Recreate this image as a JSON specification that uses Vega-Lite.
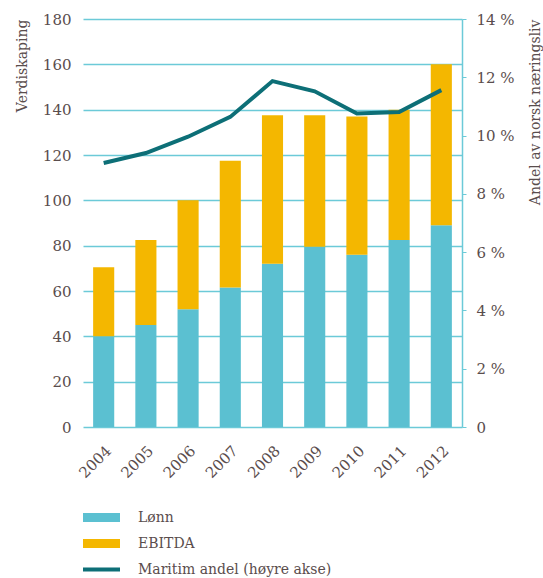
{
  "$schema": "https://vega.github.io/schema/vega-lite/v6.json",
  "width": 379,
  "height": 408,
  "autosize": "none",
  "padding": {"left": 83, "top": 19, "right": 81, "bottom": 151},
  "background": "white",
  "config": {
    "view": {"stroke": null},
    "font": "DejaVu Serif",
    "axis": {"labelColor": "#5a4d4d", "titleColor": "#5a4d4d", "labelFontSize": 15, "titleFontSize": 14, "titleFontWeight": "normal"}
  },
  "datasets": {
    "stolper": [
      {"aar": "2004", "serie": "Lønn", "verdi": 40},
      {"aar": "2004", "serie": "EBITDA", "verdi": 30.5},
      {"aar": "2005", "serie": "Lønn", "verdi": 45},
      {"aar": "2005", "serie": "EBITDA", "verdi": 37.5},
      {"aar": "2006", "serie": "Lønn", "verdi": 52},
      {"aar": "2006", "serie": "EBITDA", "verdi": 48},
      {"aar": "2007", "serie": "Lønn", "verdi": 61.5},
      {"aar": "2007", "serie": "EBITDA", "verdi": 56},
      {"aar": "2008", "serie": "Lønn", "verdi": 72},
      {"aar": "2008", "serie": "EBITDA", "verdi": 65.5},
      {"aar": "2009", "serie": "Lønn", "verdi": 79.5},
      {"aar": "2009", "serie": "EBITDA", "verdi": 58},
      {"aar": "2010", "serie": "Lønn", "verdi": 76},
      {"aar": "2010", "serie": "EBITDA", "verdi": 61},
      {"aar": "2011", "serie": "Lønn", "verdi": 82.5},
      {"aar": "2011", "serie": "EBITDA", "verdi": 57.5},
      {"aar": "2012", "serie": "Lønn", "verdi": 89},
      {"aar": "2012", "serie": "EBITDA", "verdi": 71}
    ],
    "andel": [
      {"aar": "2004", "serie": "Maritim andel (høyre akse)", "andel": 9.06},
      {"aar": "2005", "serie": "Maritim andel (høyre akse)", "andel": 9.4},
      {"aar": "2006", "serie": "Maritim andel (høyre akse)", "andel": 9.96},
      {"aar": "2007", "serie": "Maritim andel (høyre akse)", "andel": 10.64},
      {"aar": "2008", "serie": "Maritim andel (høyre akse)", "andel": 11.87},
      {"aar": "2009", "serie": "Maritim andel (høyre akse)", "andel": 11.52},
      {"aar": "2010", "serie": "Maritim andel (høyre akse)", "andel": 10.76},
      {"aar": "2011", "serie": "Maritim andel (høyre akse)", "andel": 10.81},
      {"aar": "2012", "serie": "Maritim andel (høyre akse)", "andel": 11.56}
    ]
  },
  "layer": [
    {
      "data": {"name": "stolper"},
      "mark": {"type": "bar"},
      "encoding": {
        "x": {
          "field": "aar", "type": "ordinal",
          "scale": {"paddingInner": 0.5, "paddingOuter": 0.24},
          "axis": {"title": null, "labelAngle": -45, "ticks": false, "domain": false, "labelPadding": 16}
        },
        "y": {
          "field": "verdi", "type": "quantitative", "stack": "zero",
          "scale": {"domain": [0, 180]},
          "axis": {"title": "Verdiskaping", "titleAnchor": "end", "values": [0,20,40,60,80,100,120,140,160,180], "grid": true, "gridColor": "#6ccad8", "gridWidth": 1.5, "ticks": false, "domain": false, "labelPadding": 12, "titlePadding": 13}
        },
        "color": {
          "field": "serie", "type": "nominal",
          "scale": {"domain": ["Lønn", "EBITDA", "Maritim andel (høyre akse)"], "range": ["#5bc0d1", "#f4b700", "#0d6f77"]},
          "legend": {
            "orient": "none", "legendX": 0, "legendY": 480, "direction": "vertical", "title": null,
            "labelFontSize": 14, "labelColor": "#5a4d4d", "labelFont": "DejaVu Serif", "labelLimit": 0,
            "symbolSize": 1369, "symbolType": "M-1,-0.24L1,-0.24L1,0.24L-1,0.24Z", "symbolStrokeWidth": 0,
            "labelOffset": 18, "rowPadding": 0,
            "encode": {"symbols": {"update": {
              "fill": {"scale": "color", "field": "value"},
              "opacity": {"value": 1},
              "shape": {"signal": "datum.value === 'Maritim andel (høyre akse)' ? 'M-1,-0.11L1,-0.11L1,0.11L-1,0.11Z' : 'M-1,-0.24L1,-0.24L1,0.24L-1,0.24Z'"}
            }}}
          }
        },
        "order": {"field": "serie", "sort": "descending"}
      }
    },
    {
      "data": {"name": "andel"},
      "mark": {"type": "line", "strokeWidth": 4},
      "encoding": {
        "x": {"field": "aar", "type": "ordinal"},
        "y": {
          "field": "andel", "type": "quantitative",
          "scale": {"domain": [0, 14]},
          "axis": {"orient": "right", "title": "Andel av norsk næringsliv", "titleAngle": -90, "titleAnchor": "end", "values": [0,2,4,6,8,10,12,14], "labelExpr": "datum.value === 0 ? '0' : datum.value + ' %'", "grid": false, "domain": true, "domainColor": "#6ccad8", "domainWidth": 1.5, "ticks": true, "tickColor": "#6ccad8", "tickSize": 4, "labelPadding": 10, "titlePadding": 28}
        },
        "color": {"field": "serie", "type": "nominal"}
      }
    }
  ],
  "resolve": {"scale": {"y": "independent"}}
}
